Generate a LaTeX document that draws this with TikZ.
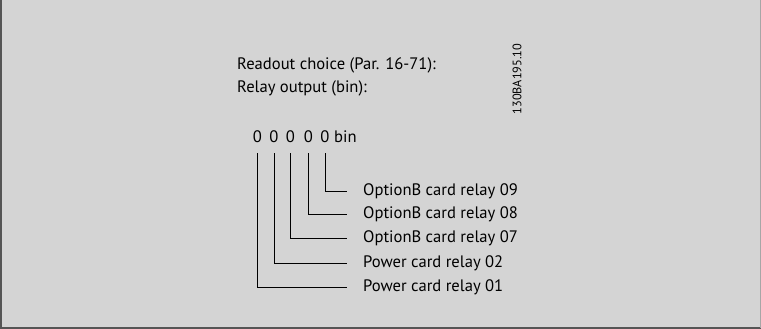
\documentclass[tikz,border=0pt]{standalone}
\usepackage{fontspec}
\setmainfont{PT Sans}
\definecolor{bg}{HTML}{D4D4D4}
\definecolor{frame}{HTML}{555555}
\begin{document}
\begin{tikzpicture}[x=1pt,y=-1pt,
  txt/.style={anchor=west,inner sep=0pt,font=\fontsize{16.6}{19}\selectfont},
  digit/.style={anchor=center,inner sep=0pt,font=\fontsize{16.6}{19}\selectfont},
  lbl/.style={anchor=west,inner sep=0pt,font=\fontsize{16.6}{19}\selectfont},
  conn/.style={draw=black,line width=0.8pt}]
\fill[bg] (0,0) rectangle (761,329);
\useasboundingbox (0,0) rectangle (761,329);
\draw[frame,line width=2pt] (1,0) -- (1,328) -- (761,328);
\draw[gray!70,line width=1pt] (760.5,0) -- (760.5,328);
\node[txt] (t1) at (237,65) {Readout choice (Par. 16-71):};
\node[txt] (t2) at (237,88) {Relay output (bin):};
\node[digit] (z1) at (257.5,137) {0};
\node[digit] (z2) at (274,137) {0};
\node[digit] (z3) at (290.5,137) {0};
\node[digit] (z4) at (308.5,137) {0};
\node[digit] (z5) at (325,137) {0};
\node[txt] (bin) at (334,137) {bin};
\node[anchor=center,inner sep=0pt,rotate=90,font=\fontsize{12.3}{14}\selectfont] (code) at (517,79) {130BA195.10};
\node[lbl] (l9) at (363,191) {OptionB card relay 09};
\node[lbl] (l8) at (363,214) {OptionB card relay 08};
\node[lbl] (l7) at (363,238) {OptionB card relay 07};
\node[lbl] (l2) at (363,263) {Power card relay 02};
\node[lbl] (l1) at (363,287) {Power card relay 01};
\coordinate (e9) at (347,191);
\coordinate (e8) at (347,214);
\coordinate (e7) at (347,238);
\coordinate (e2) at (347,263);
\coordinate (e1) at (347,287);
\draw[conn] (z5.center |- 0,153) |- (e9);
\draw[conn] (z4.center |- 0,153) |- (e8);
\draw[conn] (z3.center |- 0,153) |- (e7);
\draw[conn] (z2.center |- 0,153) |- (e2);
\draw[conn] (z1.center |- 0,153) |- (e1);
\end{tikzpicture}
\end{document}
